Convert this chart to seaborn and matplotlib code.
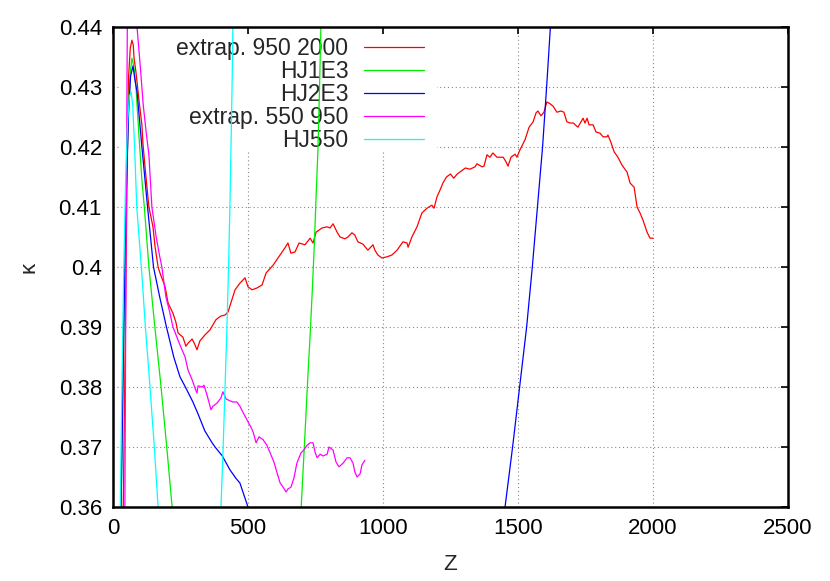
import numpy as np
import matplotlib
matplotlib.use('Agg')
import matplotlib.pyplot as plt
import seaborn as sns
from matplotlib.patches import Rectangle
from matplotlib.lines import Line2D
from matplotlib.ticker import FuncFormatter

# extrap. 950 2000 (red)
red_z = [38, 46, 52, 58, 64, 70, 75, 78, 85, 97, 107, 111, 120, 133, 148, 156, 167, 174, 193, 204,
         222, 233, 241, 259, 270, 278, 293, 302, 311, 322, 341, 359, 381, 398, 415, 426, 452, 470, 489, 500,
         515, 533, 552, 567, 593, 611, 637, 648, 659, 674, 689, 711, 730, 741, 752, 774, 793, 804, 815, 830,
         841, 859, 870, 885, 896, 907, 926, 944, 963, 970, 981, 996, 1015, 1033, 1052, 1074, 1089, 1093, 1107, 1126,
         1144, 1163, 1181, 1189, 1200, 1211, 1222, 1235, 1250, 1262, 1275, 1290, 1305, 1322, 1341, 1348, 1367, 1374, 1385, 1396,
         1407, 1422, 1445, 1456, 1463, 1474, 1489, 1496, 1507, 1526, 1541, 1556, 1567, 1574, 1585, 1596, 1607, 1619, 1630, 1644,
         1659, 1670, 1681, 1693, 1705, 1722, 1741, 1748, 1756, 1763, 1778, 1789, 1804, 1815, 1830, 1833, 1844, 1856, 1870, 1885,
         1904, 1915, 1930, 1941, 1952, 1963, 1978, 1989, 2000]
red_k = [0.360, 0.390, 0.415, 0.432, 0.4365, 0.4378, 0.4370, 0.4348, 0.4325, 0.4275, 0.4237, 0.4205, 0.4160, 0.4100, 0.4067, 0.4033, 0.4000, 0.3990, 0.3967, 0.3940,
         0.3923, 0.3908, 0.3890, 0.3883, 0.3868, 0.3873, 0.3880, 0.3872, 0.3862, 0.3877, 0.3887, 0.3895, 0.3912, 0.3918, 0.3920, 0.3925, 0.3962, 0.3973, 0.3982, 0.3967,
         0.3962, 0.3965, 0.3970, 0.3990, 0.4003, 0.4015, 0.4032, 0.4040, 0.4023, 0.4025, 0.4040, 0.4037, 0.4048, 0.4040, 0.4058, 0.4065, 0.4067, 0.4065, 0.4072, 0.4058,
         0.4050, 0.4047, 0.4050, 0.4057, 0.4053, 0.4042, 0.4038, 0.4028, 0.4037, 0.4028, 0.4020, 0.4015, 0.4017, 0.4020, 0.4028, 0.4042, 0.4040, 0.4033, 0.4050, 0.4067,
         0.4090, 0.4098, 0.4103, 0.4098, 0.4117, 0.4128, 0.4140, 0.4150, 0.4155, 0.4148, 0.4155, 0.4160, 0.4165, 0.4163, 0.4167, 0.4172, 0.4167, 0.4168, 0.4187, 0.4183,
         0.4190, 0.4183, 0.4183, 0.4175, 0.4168, 0.4183, 0.4188, 0.4183, 0.4195, 0.4212, 0.4233, 0.4242, 0.4257, 0.4260, 0.4252, 0.4258, 0.4275, 0.4272, 0.4268, 0.4258,
         0.4260, 0.4258, 0.4242, 0.4240, 0.4240, 0.4233, 0.4248, 0.4240, 0.4248, 0.4237, 0.4237, 0.4225, 0.4223, 0.4217, 0.4217, 0.4220, 0.4208, 0.4192, 0.4183, 0.4170,
         0.4158, 0.4140, 0.4133, 0.4100, 0.4090, 0.4078, 0.4058, 0.4048, 0.4048]

# HJ1E3 (green), two visible branches
hj1e3_z_a = [30, 40, 48, 56, 63, 70, 77, 85, 96, 107, 116, 133, 155, 178, 199, 219]
hj1e3_k_a = [0.360, 0.390, 0.410, 0.425, 0.432, 0.4348, 0.4335, 0.430, 0.422, 0.4145, 0.410, 0.400, 0.390, 0.380, 0.370, 0.360]
hj1e3_z_b = [697, 712, 722, 730, 738, 745, 752, 759, 765, 770, 773]
hj1e3_k_b = [0.360, 0.373, 0.382, 0.3885, 0.396, 0.403, 0.4115, 0.4195, 0.430, 0.440, 0.446]

# HJ2E3 (blue)
hj2e3_z_a = [30, 40, 48, 57, 65, 74, 82, 89, 107, 128, 150, 173, 198, 225, 248, 268, 296, 315, 340, 367, 378, 405, 433, 455, 470, 485, 500]
hj2e3_k_a = [0.360, 0.390, 0.410, 0.425, 0.4318, 0.4335, 0.431, 0.4292, 0.420, 0.410, 0.400, 0.395, 0.390, 0.385, 0.3817, 0.380, 0.3775, 0.3755, 0.3727, 0.3707, 0.370, 0.3685, 0.3662, 0.3648, 0.364, 0.362, 0.360]
hj2e3_z_b = [1452, 1480, 1506, 1532, 1553, 1572, 1591, 1606, 1620, 1625]
hj2e3_k_b = [0.360, 0.370, 0.380, 0.390, 0.400, 0.410, 0.420, 0.430, 0.440, 0.444]

# extrap. 550 950 (magenta)
mag_z = [44, 48, 53, 70, 89, 100, 112, 124, 133, 144, 160, 172, 181, 196, 210, 222, 235, 248, 267, 278,
         293, 304, 311, 315, 330, 337, 348, 363, 370, 385, 400, 407, 419, 433, 444, 459, 470, 481, 493, 500,
         511, 519, 530, 541, 556, 570, 585, 596, 607, 619, 630, 641, 648, 659, 670, 681, 696, 707, 719, 730,
         741, 748, 756, 767, 778, 793, 800, 815, 826, 837, 852, 867, 878, 889, 896, 904, 915, 922, 933]
mag_k = [0.360, 0.400, 0.440, 0.446, 0.440, 0.4340, 0.4270, 0.4220, 0.4187, 0.4100, 0.4050, 0.4020, 0.4000, 0.3950, 0.3925, 0.3900, 0.3885, 0.3870, 0.3850, 0.3828,
         0.3812, 0.3798, 0.3790, 0.3802, 0.3800, 0.3803, 0.3787, 0.3762, 0.3768, 0.3773, 0.3782, 0.3792, 0.3780, 0.3777, 0.3775, 0.3775, 0.3768, 0.3758, 0.3748, 0.3742,
         0.3733, 0.3725, 0.3707, 0.3717, 0.3712, 0.3703, 0.3687, 0.3675, 0.3658, 0.3640, 0.3633, 0.3625, 0.3630, 0.3633, 0.3648, 0.3673, 0.3690, 0.3695, 0.3703, 0.3707,
         0.3707, 0.3692, 0.3682, 0.3688, 0.3685, 0.3688, 0.3700, 0.3695, 0.3675, 0.3667, 0.3673, 0.3682, 0.3682, 0.3673, 0.3658, 0.3650, 0.3655, 0.3670, 0.3678]

# HJ550 (cyan)
hj550_z_a = [27, 33, 40, 47, 54, 61, 67, 73, 80, 88, 105, 120, 137, 153, 167]
hj550_k_a = [0.360, 0.380, 0.400, 0.415, 0.424, 0.4285, 0.4292, 0.427, 0.420, 0.410, 0.400, 0.390, 0.380, 0.370, 0.360]
hj550_z_b = [400, 408, 415, 422, 428, 433, 437, 441, 444, 446]
hj550_k_b = [0.360, 0.370, 0.380, 0.390, 0.400, 0.410, 0.420, 0.430, 0.440, 0.445]

labels = ['extrap. 950 2000', 'HJ1E3', 'HJ2E3', 'extrap. 550 950', 'HJ550']
colors = ['#ff0000', '#00ee00', '#0000ff', '#ff00ff', '#00ffff']

sns.set_style('white')
plt.rcParams['font.family'] = ['Liberation Sans', 'DejaVu Sans']
plt.rcParams['font.size'] = 16

fig = plt.figure(figsize=(8.3, 5.81), dpi=100)
ax = fig.add_axes([113 / 830, 1 - 507 / 581, 675 / 830, 480 / 581])

series = [
    [(red_z, red_k)],
    [(hj1e3_z_a, hj1e3_k_a), (hj1e3_z_b, hj1e3_k_b)],
    [(hj2e3_z_a, hj2e3_k_a), (hj2e3_z_b, hj2e3_k_b)],
    [(mag_z, mag_k)],
    [(hj550_z_a, hj550_k_a), (hj550_z_b, hj550_k_b)],
]
for parts, color in zip(series, colors):
    for z, k in parts:
        sns.lineplot(x=z, y=k, color=color, lw=0.9, sort=False, estimator=None, ax=ax, legend=False)

ax.set_xlim(0, 2500)
ax.set_ylim(0.36, 0.44)
ax.set_xticks(np.arange(0, 2501, 500))
ax.set_yticks(np.arange(0.36, 0.4401, 0.01))
ax.yaxis.set_major_formatter(FuncFormatter(lambda v, p: f'{round(v, 2):g}'))

ax.grid(True, color='#888888', linestyle=(0, (1, 2.5)), lw=0.8)
ax.set_axisbelow('line')
# key area hides the grid like the gnuplot key box
ax.add_patch(Rectangle((0.012, 0.744), 0.468, 0.24, transform=ax.transAxes,
                       facecolor='white', edgecolor='none', zorder=1.8))

for s in ax.spines.values():
    s.set_linewidth(1.8)
    s.set_color('black')
ax.tick_params(direction='in', length=5, width=1.2, top=True, right=True,
               labelsize=16, pad=8, colors='black')

ax.set_xlabel('Z', fontsize=16, labelpad=11)
ax.set_ylabel('κ', fontsize=16, labelpad=14)

handles = [Line2D([], [], color=c, lw=0.9) for c in colors]
leg = ax.legend(handles, labels, loc='upper left', bbox_to_anchor=(0.094, 0.979),
                frameon=False, markerfirst=False, handlelength=2.62, handletextpad=0.68,
                labelspacing=0.0, borderpad=0, borderaxespad=0, fontsize=16.5)
leg.set_zorder(1.9)

fig.savefig('out.png', dpi=100)
